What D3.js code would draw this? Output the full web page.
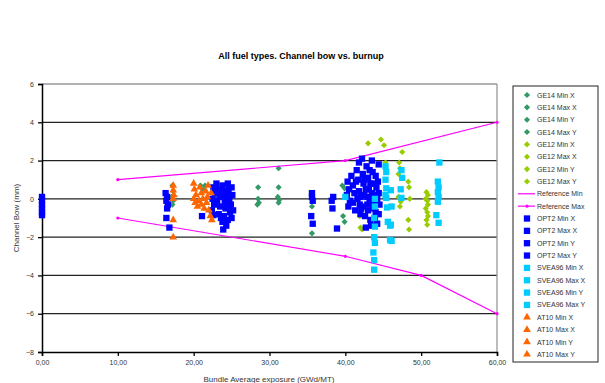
<!DOCTYPE html>
<html>
<head>
<meta charset="utf-8">
<script src="https://cdn.jsdelivr.net/npm/d3@7"></script>
<style>
  body { margin: 0; background: #fff; }
  text { font-family: 'Liberation Sans', Arial, sans-serif; }
</style>
</head>
<body>
<div id="app"></div>
<script>
'use strict'

// [burnup, bow] pairs
const ge14 = [
  [17.2, 0.7], [17.3, 0.4], [17.1, 0.1], [17.3, -0.1], [17.2, -0.3],
  [20.9, 0.7], [21.2, 0.5], [21.5, 0.7],
  [28.5, 0.6], [28.5, 0.0], [28.6, -0.2], [28.4, -0.3],
  [31.2, 1.6], [31.2, 0.6], [31.1, 0.1], [31.3, -0.05], [31.2, -0.2],
  [35.6, -0.4], [35.6, -1.8],
  [39.6, 0.7], [39.9, 0.55], [40.7, -0.15], [39.7, -0.9], [39.9, -1.2]
]
const ge12 = [
  [43.0, 2.9], [44.7, 3.1], [45.1, 2.8], [47.5, 2.45], [45.3, 1.9],
  [47.1, 1.9], [47.2, 1.6], [47.0, 1.3], [47.0, 0.1], [47.3, -0.15], [47.2, -0.4],
  [48.3, 0.9], [48.4, 0.6], [48.5, 0.0], [48.3, -1.1], [48.4, -1.6],
  [42.2, -1.6], [42.0, -1.5], [43.3, -1.1], [41.9, -0.9],
  [50.7, 0.35], [50.9, 0.2], [50.6, 0.0], [50.8, -0.1], [50.9, -0.3],
  [50.6, -0.5], [50.8, -0.7], [50.9, -0.9], [50.7, -1.1], [50.8, -1.35]
]
const refMin = [[10, -1], [40, -3], [50, -4], [60, -6]]
const refMax = [[10, 1], [40, 2], [60, 4]]
const opt2 = [
  [0, 0.1], [0, -0.1], [0, -0.3], [0, -0.5], [0, -0.7], [0, -0.85],
  [16.3, 0.3], [16.5, 0.1], [16.4, -0.1], [16.6, -0.3], [16.5, -0.5], [16.4, -1.0], [16.8, -1.5],
  [22.6, 0.6], [22.8, 0.3], [22.5, 0.0], [22.7, -0.3], [22.4, -0.6], [23.0, 0.8],
  [23.2, 0.5], [23.4, 0.2], [23.1, -0.1], [23.5, -0.4], [23.3, -0.8], [23.6, -1.0],
  [23.8, 0.7], [24.0, 0.4], [23.9, 0.1], [24.1, -0.2], [24.2, -0.5], [24.0, -0.9],
  [23.8, -1.2], [24.3, -1.4], [24.5, 0.8], [24.6, 0.5], [24.4, 0.2], [24.7, -0.1],
  [24.6, -0.4], [24.8, -0.7], [24.5, -1.1], [25.0, 0.6], [25.1, 0.2], [24.9, -0.3],
  [25.2, -0.6], [25.0, -1.0], [23.9, -1.6], [22.6, -0.85], [21.1, -0.9],
  [35.6, 0.3], [35.6, 0.1], [35.7, -0.1], [35.5, -0.9], [35.7, -1.3],
  [38.4, 0.1], [38.2, -0.1], [38.3, -0.5], [38.9, -1.55],
  [40.3, 0.9], [40.5, 0.5], [40.2, 0.2], [40.6, -0.1], [40.4, -0.4], [40.8, 1.2],
  [41.0, 0.7], [41.2, 0.3], [41.0, -0.2], [41.3, -0.6], [41.5, 1.5], [41.7, 1.0],
  [41.8, 0.4], [41.6, 0.0], [41.9, -0.3], [42.0, -0.8], [42.2, 2.1], [42.3, 1.3],
  [42.4, 0.8], [42.5, 0.2], [42.3, -0.4], [42.6, -0.9], [42.8, 1.7], [43.0, 1.1],
  [43.1, 0.5], [42.9, 0.1], [43.2, -0.2], [43.0, -0.6], [43.3, -1.1], [43.5, 2.0],
  [43.6, 1.4], [43.7, 0.8], [43.5, 0.3], [43.8, -0.1], [43.6, -0.5], [43.9, -1.0],
  [44.0, 1.2], [44.1, 0.6], [44.2, 0.0], [44.0, -0.7], [44.3, 0.9], [44.4, 0.3],
  [44.5, -0.3], [43.4, -1.4], [42.7, -1.5], [44.2, -1.3], [44.4, 1.8], [41.8, 1.9],
  [42.0, 0.1], [42.1, -0.5], [42.7, 0.5], [42.9, -0.3], [43.3, 0.8], [43.4, 0.0],
  [43.2, 1.5], [44.0, 0.2], [42.5, 1.0], [43.8, -0.4], [44.4, -0.8], [41.4, 0.9]
]
const svea96 = [
  [40.0, 0.1],
  [43.9, 0.0], [43.9, -0.4], [43.8, -1.0], [43.9, -1.45], [43.8, -2.0], [43.9, -2.3],
  [43.7, -2.8], [43.8, -3.2], [43.8, -3.7],
  [45.3, 1.7], [45.4, 1.4], [45.3, 1.0], [45.4, 0.55], [45.3, 0.2], [45.4, 0.05],
  [45.5, -0.45], [45.6, -1.2], [45.9, -1.4], [45.9, -2.15],
  [46.0, 0.45], [46.1, -0.4], [46.0, -1.35], [46.1, -2.2],
  [47.4, 1.5], [47.5, 1.1], [47.3, 0.5], [47.4, 0.05],
  [52.4, 1.9], [52.2, 0.9], [52.3, 0.6], [52.2, 0.35], [52.3, 0.1], [52.2, -0.15],
  [52.0, -0.85], [52.3, -1.25]
]
const at10 = [
  [17.3, 0.7], [17.3, 0.45], [17.4, 0.2], [17.3, 0.0], [17.3, -1.1], [17.3, -2.0],
  [20.0, 0.8], [20.1, 0.5], [20.3, 0.2], [20.0, 0.0], [20.2, -0.2], [20.5, -0.4],
  [20.8, 0.6], [21.0, 0.3], [21.2, 0.0], [21.0, -0.3], [21.4, -0.5], [21.6, 0.4],
  [21.8, 0.1], [21.7, -0.2], [22.0, -0.6], [22.2, -0.9], [22.4, -1.1], [21.9, 0.7],
  [22.3, 0.3], [20.7, -0.1]
]

const xTicks = [0, 10, 20, 30, 40, 50, 60]
const yTicks = [-8, -6, -4, -2, 0, 2, 4, 6]
const legendNames = [
  'GE14 Min X', 'GE14 Max X', 'GE14 Min Y', 'GE14 Max Y',
  'GE12 Min X', 'GE12 Max X', 'GE12 Min Y', 'GE12 Max Y',
  'Reference Min', 'Reference Max',
  'OPT2 Min X', 'OPT2 Max X', 'OPT2 Min Y', 'OPT2 Max Y',
  'SVEA96 Min X', 'SVEA96 Max X', 'SVEA96 Min Y', 'SVEA96 Max Y',
  'AT10  Min X', 'AT10 Max X', 'AT10 Min Y', 'AT10 Max Y'
]

const colors = {
  ge14: '#339966', ge12: '#99cc00', ref: '#ff00ff',
  opt2: '#0000ff', svea: '#00ccff', at10: '#ff6600'
}

const W = 605, H = 383
const plot = { left: 42, right: 497, top: 84, bottom: 352 }

const svg = d3.select('#app').append('svg')
  .attr('width', W)
  .attr('height', H)

const x = d3.scaleLinear().domain([0, 60]).range([plot.left, plot.right])
const y = d3.scaleLinear().domain([-8, 6]).range([plot.bottom, plot.top])

// title
svg.append('text')
  .attr('x', 301).attr('y', 59)
  .attr('text-anchor', 'middle')
  .style('font-size', '9px').style('font-weight', 'bold')
  .text('All fuel types. Channel bow vs. burnup')

// grid lines
svg.append('g').selectAll('line')
  .data(yTicks.filter(d => d > -8))
  .enter().append('line')
  .attr('x1', plot.left).attr('x2', plot.right)
  .attr('y1', d => y(d)).attr('y2', d => y(d))
  .attr('stroke', d => d === 6 ? '#999' : '#222')
  .attr('stroke-width', 1.3)

// right border
svg.append('line')
  .attr('x1', plot.right).attr('x2', plot.right)
  .attr('y1', plot.top).attr('y2', plot.bottom)
  .attr('stroke', '#999').attr('stroke-width', 1.3)

const fmt = d => d3.format('.2f')(d).replace('.', ',')

const xAxis = svg.append('g')
  .attr('transform', `translate(0,${plot.bottom})`)
  .call(d3.axisBottom(x).tickValues(xTicks).tickFormat(fmt).tickSize(4).tickPadding(4))
const yAxis = svg.append('g')
  .attr('transform', `translate(${plot.left},0)`)
  .call(d3.axisLeft(y).tickValues(yTicks).tickSize(4).tickPadding(4))

;[xAxis, yAxis].forEach(g => {
  g.selectAll('path').attr('stroke', '#000').attr('stroke-width', 1.5)
  g.selectAll('line').attr('stroke', '#000').attr('stroke-width', 1.3)
  g.selectAll('text').style('font-size', '7px').attr('fill', '#333')
    .style('font-family', "'Liberation Sans', Arial, sans-serif")
})

// axis titles
svg.append('text')
  .attr('x', 269).attr('y', 382)
  .attr('text-anchor', 'middle')
  .style('font-size', '8px').attr('fill', '#333')
  .text('Bundle Average exposure (GWd/MT)')
svg.append('text')
  .attr('transform', `translate(19,${(plot.top + plot.bottom) / 2}) rotate(-90)`)
  .attr('text-anchor', 'middle')
  .style('font-size', '8px').attr('fill', '#333')
  .text('Channel Bow (mm)')

const diamond = d3.symbol().type(d3.symbolDiamond2).size(24)
const square = d3.symbol().type(d3.symbolSquare).size(40)
const triangle = d3.symbol().type(d3.symbolTriangle).size(26)

const scatter = (data, sym, color) => {
  svg.append('g').selectAll('path')
    .data(data)
    .enter().append('path')
    .attr('d', sym)
    .attr('fill', color)
    .attr('transform', d => `translate(${x(d[0])},${y(d[1])})`)
}

const line = d3.line().x(d => x(d[0])).y(d => y(d[1]))
const refLine = data => {
  svg.append('path')
    .datum(data)
    .attr('d', line)
    .attr('fill', 'none')
    .attr('stroke', colors.ref)
    .attr('stroke-width', 1.2)
  svg.append('g').selectAll('circle')
    .data(data)
    .enter().append('circle')
    .attr('cx', d => x(d[0])).attr('cy', d => y(d[1]))
    .attr('r', 1.6)
    .attr('fill', colors.ref)
}

scatter(ge14, diamond, colors.ge14)
scatter(ge12, diamond, colors.ge12)
refLine(refMin)
refLine(refMax)
scatter(opt2, square, colors.opt2)
scatter(svea96, square, colors.svea)
scatter(at10, triangle, colors.at10)

// legend
const leg = svg.append('g')
leg.append('rect')
  .attr('x', 513).attr('y', 86)
  .attr('width', 85).attr('height', 276)
  .attr('fill', '#fff')
  .attr('stroke', '#222').attr('stroke-width', 1)

const legendStyle = i => {
  if (i < 4) return { sym: diamond, color: colors.ge14 }
  if (i < 8) return { sym: diamond, color: colors.ge12 }
  if (i < 10) return { line: true, marker: i === 9, color: colors.ref }
  if (i < 14) return { sym: square, color: colors.opt2 }
  if (i < 18) return { sym: square, color: colors.svea }
  return { sym: triangle, color: colors.at10 }
}

const item = leg.selectAll('g.item')
  .data(legendNames)
  .enter().append('g')
  .attr('class', 'item')
  .attr('transform', (d, i) => `translate(527,${95 + i * 12.35})`)

item.each(function (d, i) {
  const g = d3.select(this)
  const s = legendStyle(i)
  if (s.line) {
    g.append('line')
      .attr('x1', -9).attr('x2', 8)
      .attr('stroke', s.color).attr('stroke-width', 1.2)
    if (s.marker) {
      g.append('circle').attr('r', 1.6).attr('fill', s.color)
    }
  } else {
    g.append('path').attr('d', s.sym).attr('fill', s.color)
  }
  g.append('text')
    .attr('x', 10).attr('y', 2.5)
    .style('font-size', '7px').attr('fill', '#333')
    .text(d)
})
</script>
</body>
</html>
